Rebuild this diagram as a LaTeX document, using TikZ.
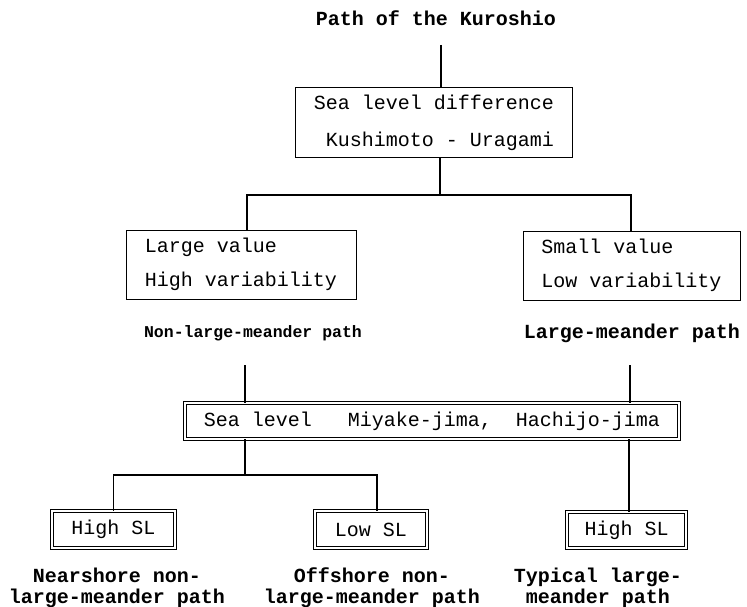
\documentclass[tikz,border=0pt]{standalone}
\usepackage{fontspec}
\setmonofont{Liberation Mono}
\begin{document}
\begin{tikzpicture}[x=1pt,y=-1pt,
  conn/.style={line width=1.1pt},
  box/.style={draw, line width=1pt, inner sep=0pt, font=\ttfamily\fontsize{20}{34}\selectfont},
  dbox/.style={box, double, double distance=1.6pt, line width=0.9pt},
  lbl/.style={inner sep=0pt, font=\ttfamily\bfseries\fontsize{20}{21}\selectfont}]
\useasboundingbox (0,0) rectangle (747,607);
% title
\node[lbl] (title) at (436,18) {Path of the Kuroshio};
% first box
\node[box, minimum width=277pt, minimum height=70pt, align=center,
      font=\ttfamily\fontsize{20}{37}\selectfont] (sld) at (434,123)
  {Sea level difference\\~Kushimoto - Uragami};
% second level
\node[box, minimum width=230pt, minimum height=69pt, align=left] (lv) at (241,264.5)
  {Large value\\High variability};
\node[box, minimum width=217pt, minimum height=69pt, align=left] (sv) at (631.5,265.5)
  {Small value\\Low variability};
\node[lbl, font=\ttfamily\bfseries\fontsize{16.5}{21}\selectfont] (nlm) at (253,333) {Non-large-meander path};
\node[lbl] (lm) at (632,333) {Large-meander path};
% sea level box
\node[dbox, minimum width=494pt, minimum height=36pt] (sl) at (432,421)
  {Sea level~~~Miyake-jima,~~Hachijo-jima};
% bottom boxes
\node[dbox, minimum width=123pt, minimum height=37pt] (hs1) at (113.5,529.5) {High SL};
\node[dbox, minimum width=112pt, minimum height=37pt] (ls) at (371,529.5) {Low SL};
\node[dbox, minimum width=119pt, minimum height=36pt] (hs2) at (626.5,530) {High SL};
% bottom labels
\node[lbl, align=center] (ns) at (117,588) {Nearshore non-\\large-meander path};
\node[lbl, align=center] (os) at (372,588) {Offshore non-\\large-meander path};
\node[lbl, align=center] (ty) at (598,588) {Typical large-\\meander path};
% connectors
\coordinate (t0) at (441,45);
\draw[conn] (t0) -- (t0 |- sld.north);
\coordinate (j1) at (440,195);
\draw[conn] (sld.south -| j1) -- (j1);
\draw[conn] (j1) -| ([xshift=6pt]lv.north);
\draw[conn] (j1) -| ([xshift=-0.5pt]sv.north);
\coordinate (n0) at (245,365);
\draw[conn] (n0) -- (n0 |- sl.north);
\coordinate (l0) at (630,365);
\draw[conn] (l0) -- (l0 |- sl.north);
\coordinate (j2) at (245,475);
\draw[conn] (sl.south -| j2) -- (j2);
\draw[conn] (j2) -| (hs1.north);
\draw[conn] (j2) -| ([xshift=6pt]ls.north);
\draw[conn] ([xshift=2.5pt]hs2.north |- sl.south) -- ([xshift=2.5pt]hs2.north);
\end{tikzpicture}
\end{document}
